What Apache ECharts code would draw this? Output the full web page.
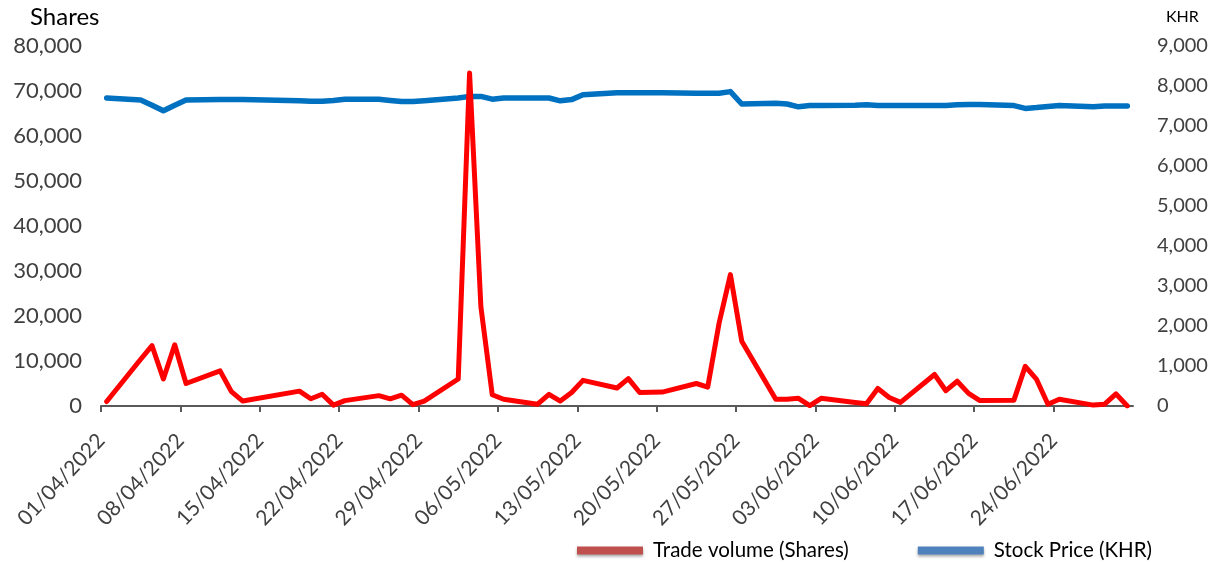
<!DOCTYPE html>
<html>
<head>
<meta charset="utf-8">
<script src="https://cdn.jsdelivr.net/npm/echarts@6/dist/echarts.min.js"></script>
<style>
html,body{margin:0;padding:0;background:#fff;}
#chart{width:1223px;height:564px;}
</style>
</head>
<body>
<div id="chart"></div>
<script>
// ---- data ----
var dates = ['01/04/2022','04/04/2022','05/04/2022','06/04/2022','07/04/2022','08/04/2022','11/04/2022','12/04/2022','13/04/2022',
  '18/04/2022','19/04/2022','20/04/2022','21/04/2022','22/04/2022','25/04/2022','26/04/2022','27/04/2022','28/04/2022','29/04/2022',
  '02/05/2022','03/05/2022','04/05/2022','05/05/2022','06/05/2022','09/05/2022','10/05/2022','11/05/2022','12/05/2022','13/05/2022',
  '16/05/2022','17/05/2022','18/05/2022','20/05/2022','23/05/2022','24/05/2022','25/05/2022','26/05/2022','27/05/2022',
  '30/05/2022','31/05/2022','01/06/2022','02/06/2022','03/06/2022','06/06/2022','07/06/2022','08/06/2022','09/06/2022','10/06/2022',
  '13/06/2022','14/06/2022','15/06/2022','16/06/2022','17/06/2022','20/06/2022','21/06/2022','22/06/2022','23/06/2022','24/06/2022',
  '27/06/2022','28/06/2022','29/06/2022','30/06/2022'];
var tradeVolume = [1000,10400,13400,6000,13600,5000,7800,3200,1100,
  3300,1600,2600,200,1200,2300,1600,2400,300,1100,
  6000,74000,22000,2500,1500,400,2600,1100,3000,5700,
  4000,6100,3000,3100,5000,4200,18400,29200,14400,
  1500,1500,1700,100,1700,800,500,3900,1900,800,
  7000,3400,5500,2800,1200,1300,8800,5900,400,1500,
  200,400,2700,0];
var stockPrice = [7700,7650,7520,7380,7520,7650,7660,7660,7660,
  7630,7620,7620,7640,7670,7670,7640,7610,7610,7630,
  7700,7740,7740,7670,7700,7700,7700,7630,7660,7780,
  7830,7830,7830,7830,7820,7820,7820,7860,7550,
  7570,7550,7480,7510,7510,7520,7530,7510,7510,7510,
  7510,7510,7530,7540,7540,7510,7440,7460,7490,7510,
  7480,7500,7500,7500];
var axisStart = '01/04/2022';
var axisEnd = '01/07/2022';
var seriesNames = ['Trade volume (Shares)', 'Stock Price (KHR)'];
var leftAxisTitle = 'Shares';
var rightAxisTitle = 'KHR';

// ---- helpers ----
function parseDMY(s){ var p = s.split('/'); return Date.UTC(+p[2], +p[1]-1, +p[0]); }
var DAY = 86400000;
var t0 = parseDMY(axisStart);
var spanDays = Math.round((parseDMY(axisEnd) - t0) / DAY);
function dayPos(s){ return (parseDMY(s) - t0) / DAY + 0.5; }
function fmtDay(v){
  var d = new Date(t0 + v * DAY);
  var dd = ('0' + d.getUTCDate()).slice(-2), mm = ('0' + (d.getUTCMonth()+1)).slice(-2);
  return dd + '/' + mm + '/' + d.getUTCFullYear();
}
function fmtNum(v){ return v.toLocaleString('en-US'); }

var volData = dates.map(function(d,i){ return [dayPos(d), tradeVolume[i]]; });
var priceData = dates.map(function(d,i){ return [dayPos(d), stockPrice[i]]; });

var FONT = 'Lato';
var chart = echarts.init(document.getElementById('chart'));
chart.setOption({
  animation: false,
  backgroundColor: '#ffffff',
  grid: { left: 101, right: 90, top: 46, bottom: 158, containLabel: false },
  xAxis: {
    type: 'value', min: 0, max: spanDays, interval: 7,
    axisLine: { show: true, lineStyle: { color: '#595959', width: 2 } },
    axisTick: { show: true, length: 6, lineStyle: { color: '#595959', width: 2 } },
    splitLine: { show: false },
    axisLabel: {
      rotate: 47, margin: 31, color: '#404040', fontFamily: FONT, fontSize: 21,
      showMaxLabel: false,
      formatter: function(v){ return v >= spanDays ? '' : fmtDay(v); }
    }
  },
  yAxis: [
    { type: 'value', min: 0, max: 80000, interval: 10000,
      axisLine: { show: false }, axisTick: { show: false }, splitLine: { show: false },
      axisLabel: { color: '#404040', fontFamily: FONT, fontSize: 22, margin: 19, formatter: fmtNum } },
    { type: 'value', min: 0, max: 9000, interval: 1000, position: 'right',
      axisLine: { show: false }, axisTick: { show: false }, splitLine: { show: false },
      axisLabel: { color: '#404040', fontFamily: FONT, fontSize: 20, margin: 24, formatter: fmtNum } }
  ],
  legend: {
    bottom: -2, left: 572, itemWidth: 66, itemHeight: 8, itemGap: 69,
    textStyle: { fontFamily: FONT, fontSize: 20.5, color: '#000', padding: [0,0,0,5] },
    data: [
      { name: seriesNames[0], icon: 'rect', itemStyle: { color: '#c0504d', shadowBlur: 3, shadowColor: 'rgba(0,0,0,0.35)', shadowOffsetY: 2 } },
      { name: seriesNames[1], icon: 'rect', itemStyle: { color: '#4f81bd', shadowBlur: 3, shadowColor: 'rgba(0,0,0,0.35)', shadowOffsetY: 2 } }
    ]
  },
  graphic: [
    { type: 'text', left: 30, top: 5, style: { text: leftAxisTitle, fontFamily: FONT, fontSize: 24, fill: '#000' } },
    { type: 'text', left: 1166, top: 9, style: { text: rightAxisTitle, fontFamily: FONT, fontSize: 16, fill: '#000' } }
  ],
  series: [
    { name: seriesNames[0], type: 'line', yAxisIndex: 0, data: volData, showSymbol: false, symbol: 'none',
      lineStyle: { color: '#ff0000', width: 5, join: 'round', cap: 'round' }, itemStyle: { color: '#c0504d' }, z: 3 },
    { name: seriesNames[1], type: 'line', yAxisIndex: 1, data: priceData, showSymbol: false, symbol: 'none',
      lineStyle: { color: '#0070c0', width: 5.5, join: 'round', cap: 'round' }, itemStyle: { color: '#4f81bd' }, z: 2 }
  ]
});
</script>
</body>
</html>
